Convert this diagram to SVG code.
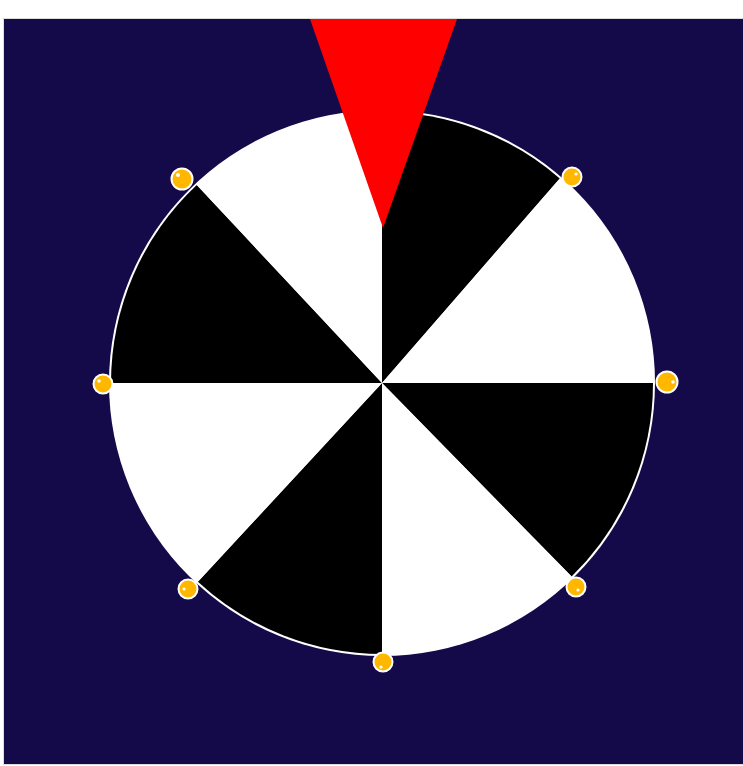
<svg xmlns="http://www.w3.org/2000/svg" width="743" height="766" viewBox="0 0 743 766">
<defs>
<style>
.bk{fill:#000000}
.wh{fill:#ffffff}
.dot{fill:#ffb700;stroke:#ffffff;stroke-width:2}
.hl{fill:#ffffff}
</style>
</defs>
<rect x="0" y="0" width="743" height="766" fill="#ffffff"/>
<rect id="board" x="3.5" y="18.5" width="741" height="746" fill="#140a4a" stroke="#dcdcdc" stroke-width="1"/>
<g id="wheel">
<circle cx="382" cy="383" r="273" fill="#ffffff"/>
<path class="bk" d="M382,383 L382,112 A271,271 0 0 1 559.8,178.5 Z"/>
<path class="wh" d="M382,383 L559.8,178.5 A271,271 0 0 1 653,383 Z"/>
<path class="bk" d="M382,383 L653,383 A271,271 0 0 1 571.6,576.6 Z"/>
<path class="wh" d="M382,383 L571.6,576.6 A271,271 0 0 1 382,654 Z"/>
<path class="bk" d="M382,383 L382,654 A271,271 0 0 1 197.9,581.8 Z"/>
<path class="wh" d="M382,383 L197.9,581.8 A271,271 0 0 1 111,383 Z"/>
<path class="bk" d="M382,383 L111,383 A271,271 0 0 1 196.8,185.1 Z"/>
<path class="wh" d="M382,383 L196.8,185.1 A271,271 0 0 1 382,112 Z"/>
</g>
<g id="pegs">
<g id="peg1"><circle class="dot" cx="182" cy="179" r="10.5"/><circle class="hl" cx="178" cy="175" r="2"/></g>
<g id="peg2"><circle class="dot" cx="572" cy="177" r="9.5"/><circle class="hl" cx="576" cy="174" r="1.6"/></g>
<g id="peg3"><circle class="dot" cx="103" cy="384" r="9.5"/><circle class="hl" cx="99" cy="381" r="1.8"/></g>
<g id="peg4"><circle class="dot" cx="667" cy="382" r="10.5"/><circle class="hl" cx="673" cy="382" r="1.8"/></g>
<g id="peg5"><circle class="dot" cx="188" cy="589" r="9.5"/><circle class="hl" cx="184" cy="589" r="1.6"/></g>
<g id="peg6"><circle class="dot" cx="576" cy="587" r="9.5"/><circle class="hl" cx="578" cy="590" r="1.6"/></g>
<g id="peg7"><circle class="dot" cx="383" cy="662" r="9.5"/><circle class="hl" cx="381" cy="667" r="1.6"/></g>
</g>
<g id="pointer">
<polygon points="310,19 457,19 383,228" fill="#ff0000"/>
</g>
</svg>
